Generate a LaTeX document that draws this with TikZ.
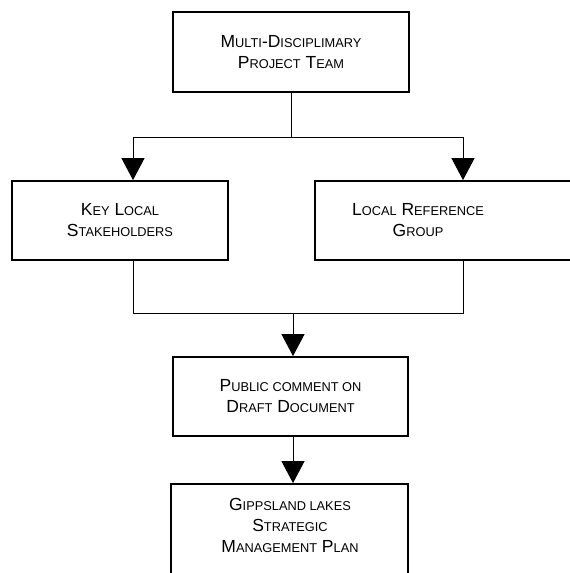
\documentclass[tikz,border=0pt]{standalone}
\usepackage{fontspec}
\setmainfont{Liberation Sans}
\usetikzlibrary{positioning, arrows.meta}

% faked small capitals
\newcommand{\smc}[1]{{\fontsize{12.8pt}{21pt}\selectfont #1}}

\begin{document}
\begin{tikzpicture}[x=1pt, y=-1pt,
    stage/.style={draw, line width=1.8pt, align=center, inner sep=0pt,
      font=\fontsize{17.5pt}{21pt}\selectfont},
    caption/.style={align=center, inner sep=0pt, font=\fontsize{17.5pt}{21pt}\selectfont},
    link/.style={line width=1pt},
    flow/.style={line width=1pt, -{Triangle[width=23pt,length=22pt]}}]

          \useasboundingbox (0,0) rectangle (570,573);
          \clip (0,0) rectangle (570,573);

          \node[stage, minimum width=236pt, minimum height=80pt] (team) at (291,52)
            {M\smc{ULTI}-D\smc{ISCIPLIMARY}\\P\smc{ROJECT} T\smc{EAM}};
          \node[stage, minimum width=216pt, minimum height=79pt] (stake) at (120,220.5)
            {K\smc{EY} L\smc{OCAL}\\S\smc{TAKEHOLDERS}};
          \node[stage, minimum width=296pt, minimum height=79pt] (refgrp) at (463,220.5) {};
          \node[caption] (reftxt) at (418,220.5) {L\smc{OCAL} R\smc{EFERENCE}\\G\smc{ROUP}};
          \node[stage, minimum width=235pt, minimum height=79pt] (public) at (290.5,396.5)
            {P\smc{UBLIC COMMENT ON}\\D\smc{RAFT} D\smc{OCUMENT}};
          \node[stage, minimum width=237pt, minimum height=120pt] (plan) at (289.5,544) {};
          \node[caption] (plantxt) at (290,525)
            {G\smc{IPPSLAND LAKES}\\S\smc{TRATEGIC}\\M\smc{ANAGEMENT} P\smc{LAN}};

          \coordinate (split) at (291.5,137);
          \coordinate (lrail) at (133,137);
          \coordinate (rrail) at (463,137);
          \coordinate (ljoin) at (133,313);
          \coordinate (rjoin) at (463,313);
          \coordinate (merge) at (293,313);

          \draw[link] (team.south -| split) -- (split);
          \draw[flow] (split) -- (lrail) -- (lrail |- stake.north);
          \draw[flow] (split) -- (rrail) -- (rrail |- refgrp.north);

          \draw[link] (ljoin |- stake.south) -- (ljoin) -- (rjoin) -- (rjoin |- refgrp.south);
          \draw[flow] (merge) -- (merge |- public.north);

          \draw[flow] ([xshift=2.5pt]public.south) -- ([xshift=2.5pt]public.south |- plan.north);
        \end{tikzpicture}
\end{document}
